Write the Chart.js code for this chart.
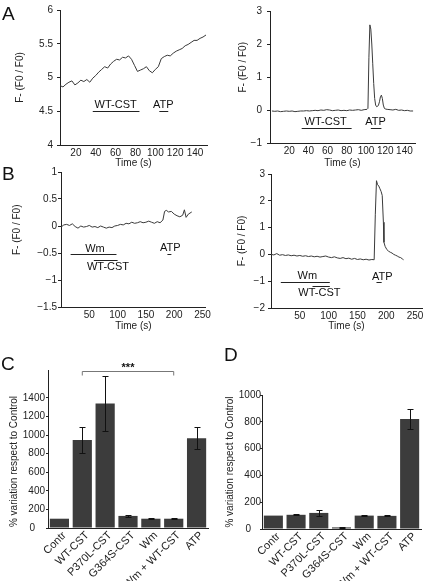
<!DOCTYPE html>
<html>
<head>
<meta charset="utf-8">
<script src="https://cdn.jsdelivr.net/npm/chart.js@4/dist/chart.umd.min.js"></script>
<style>
body { margin: 0; background: #fff; }
#fig { position: relative; width: 426px; height: 581px; overflow: hidden; font-family: "Liberation Sans", Arial, sans-serif; }
#fig canvas { position: absolute; }
.tag { position: absolute; font-size: 19px; line-height: 1; color: #111; }
</style>
</head>
<body>
<div id="fig">
  <canvas id="a1" width="213" height="172" style="left:0;top:0"></canvas>
  <canvas id="a2" width="213" height="172" style="left:213px;top:0"></canvas>
  <canvas id="b1" width="213" height="170" style="left:0;top:165px"></canvas>
  <canvas id="b2" width="213" height="170" style="left:213px;top:165px"></canvas>
  <canvas id="c" width="213" height="231" style="left:0;top:350px"></canvas>
  <canvas id="d" width="213" height="231" style="left:213px;top:350px"></canvas>
  <div class="tag" style="left:2px;top:4px">A</div>
  <div class="tag" style="left:2px;top:164px">B</div>
  <div class="tag" style="left:1px;top:354px">C</div>
  <div class="tag" style="left:224px;top:345px">D</div>
</div>
<script>
// time tick labels
const ticksA = [20,40,60,80,100,120,140];
const ticksB = [50,100,150,200,250];

// A left: WT-CST then ATP
const timeA1 = [4,7,10,13,16,19,22,25,28,31,34,37,40,43,46,49,52,55,58,61,64,67,70,73,76,79,82,85,88,91,94,97,100,103,106,109,112,115,118,121,124,127,130,133,136,139,142,145,148,151];
const valA1 = [4.88,4.86,4.90,4.93,4.95,4.89,4.92,4.96,4.94,4.97,4.93,4.99,5.03,5.08,5.12,5.16,5.14,5.20,5.24,5.27,5.26,5.30,5.29,5.32,5.27,5.18,5.09,5.11,5.13,5.16,5.10,5.07,5.12,5.16,5.28,5.31,5.33,5.32,5.36,5.39,5.41,5.43,5.47,5.49,5.52,5.55,5.55,5.58,5.60,5.63];
const spansA1 = [[37,84,4.5],[104,113,4.5]];
const notesA1 = [['WT-CST',60,4.6],['ATP',108,4.6]];

// A right
const timeA2 = [2,5,8,11,14,17,20,23,26,29,32,35,38,41,44,47,50,53,56,59,62,65,68,71,74,77,80,83,86,89,92,95,98,101,102,103,104,105,106,107,108,109,110,111,112,113,114,115,116,117,118,119,120,122,125,128,131,134,137,140,143,146,149];
const valA2 = [-0.03,-0.04,-0.03,-0.05,-0.04,-0.03,-0.04,-0.03,-0.05,-0.04,-0.03,-0.03,-0.02,-0.03,-0.02,-0.01,-0.02,0.0,-0.01,0.01,0.0,-0.02,-0.01,0.0,-0.02,-0.01,-0.02,0.0,-0.01,0.0,0.01,-0.01,0.01,0.02,0.05,1.6,2.58,2.45,2.0,1.4,0.8,0.35,0.15,0.1,0.11,0.15,0.25,0.4,0.45,0.35,0.15,0.06,0.03,0.02,0.01,0.0,0.02,-0.01,0.0,-0.02,-0.01,-0.03,-0.03];
const spansA2 = [[33,85,-0.54],[105,116,-0.54]];
const notesA2 = [['WT-CST',58,-0.36],['ATP',110,-0.36]];

// B left: wortmannin, then WT-CST, then ATP
const timeB1 = [0,5,10,15,20,25,30,35,40,45,50,55,60,65,70,75,80,85,90,95,100,105,110,115,120,125,130,135,140,145,150,155,160,165,170,175,180,183,186,190,195,200,205,210,215,218,221,225,231];
const valB1 = [-0.02,0.02,0.03,0.01,0.04,-0.01,-0.04,0.0,-0.02,-0.01,0.01,-0.02,-0.01,-0.03,0.0,-0.02,-0.04,-0.02,-0.03,0.0,0.01,0.03,0.02,0.05,0.04,0.07,0.05,0.06,0.08,0.06,0.07,0.09,0.07,0.05,0.08,0.06,0.11,0.27,0.29,0.26,0.27,0.22,0.19,0.17,0.20,0.30,0.16,0.22,0.26];
const spansB1 = [[17,98,-0.52],[58,100,-0.63],[188,195,-0.52]];
const notesB1 = [['Wm',60,-0.43],['WT-CST',83,-0.76],['ATP',193,-0.41]];

// B right
const timeB2 = [0,5,10,15,20,25,30,35,40,45,50,55,60,65,70,75,80,85,90,95,100,105,110,115,120,125,130,135,140,145,150,155,160,165,170,175,179,181,183,185,187,189,191,193,195,196,198,201,204,207,210,213,216,219,222,225,228,230];
const valB2 = [0.0,-0.02,0.03,-0.03,-0.01,-0.04,-0.02,-0.05,-0.03,-0.06,-0.04,-0.07,-0.05,-0.08,-0.06,-0.09,-0.07,-0.1,-0.08,-0.06,-0.1,-0.12,-0.09,-0.13,-0.15,-0.12,-0.16,-0.14,-0.18,-0.15,-0.19,-0.17,-0.2,-0.18,-0.21,-0.19,-0.2,1.5,2.75,2.6,2.55,2.45,2.35,2.2,1.2,0.45,0.3,0.18,0.12,0.08,0.05,0.0,-0.03,-0.06,-0.1,-0.12,-0.17,-0.2];
const spansB2 = [[17,102,-1.04],[72,102,-1.19],[183,192,-1.04]];
const notesB2 = [['Wm',63,-0.81],['WT-CST',84,-1.44],['ATP',193,-0.85]];

// C and D: % variation respect to control
const groups = ['Contr','WT-CST','P370L-CST','G364S-CST','Wm','Wm + WT-CST','ATP'];
const meanC = [100,946,1340,130,100,100,965];
const errC = [0,143,296,8,4,4,120];
const meanD = [100,106,120,12,100,98,820];
const errD = [0,4,22,3,3,3,75];
const sigC = [1,5,1690,'***'];

Chart.defaults.font.family = '"Liberation Sans", Arial, sans-serif';
Chart.defaults.font.size = 10;
Chart.defaults.color = '#222';

function tickText(v) { return v < 0 ? '\u2212' + Math.abs(v) : String(v); }

const marks = {
  id: 'marks',
  afterDraw(chart, args, o) {
    const {ctx, scales: {x, y}} = chart;
    ctx.save();
    ctx.strokeStyle = '#222';
    ctx.lineWidth = 1;
    o.spans.forEach(s => {
      const yy = Math.round(y.getPixelForValue(s[2])) + 0.5;
      ctx.beginPath();
      ctx.moveTo(x.getPixelForValue(s[0]), yy);
      ctx.lineTo(x.getPixelForValue(s[1]), yy);
      ctx.stroke();
    });
    ctx.fillStyle = '#111';
    ctx.font = '11px "Liberation Sans", Arial, sans-serif';
    ctx.textAlign = 'center';
    ctx.textBaseline = 'middle';
    o.notes.forEach(n => ctx.fillText(n[0], x.getPixelForValue(n[1]), y.getPixelForValue(n[2])));
    ctx.restore();
  }
};

function traceChart(id, t, v, o) {
  return new Chart(document.getElementById(id), {
    type: 'line',
    data: { datasets: [{ data: t.map((x, i) => ({x: x, y: v[i]})), borderColor: '#3a3a3a', borderWidth: 1, pointRadius: 0, tension: 0 }] },
    options: {
      responsive: false, animation: false, devicePixelRatio: 1,
      layout: { padding: { top: o.pad[0], right: o.pad[1], left: 0, bottom: 0 } },
      plugins: { legend: { display: false }, tooltip: { enabled: false }, marks: { spans: o.spans, notes: o.notes } },
      scales: {
        x: {
          type: 'linear', min: o.x[0], max: o.x[1],
          border: { color: '#222' }, grid: { display: false, drawTicks: false },
          ticks: { autoSkip: false, maxRotation: 0, padding: 2 },
          afterBuildTicks: s => { s.ticks = o.ticks.map(k => ({value: k})); },
          afterFit: s => { s.height = o.xh; },
          title: { display: true, text: 'Time (s)', padding: { top: 0, bottom: 3 } }
        },
        y: {
          min: o.y[0], max: o.y[1],
          border: { color: '#222' }, grid: { drawOnChartArea: false, tickLength: 3, color: '#222' },
          ticks: { stepSize: o.y[2], padding: o.tp, callback: tickText },
          afterFit: s => { s.width = o.yw; },
          title: { display: true, text: o.title, padding: { top: o.ttp, bottom: 0 } }
        }
      }
    },
    plugins: [marks]
  });
}

traceChart('a1', timeA1, valA1, { pad: [9, 6], x: [4, 152], ticks: ticksA, y: [4, 6, 0.5], xh: 27, yw: 60, tp: 4, ttp: 14,
  title: 'F- (F0 / F0)', spans: spansA1, notes: notesA1 });
traceChart('a2', timeA2, valA2, { pad: [8, 11], x: [0, 151], ticks: ticksA, y: [-1, 3, 1], xh: 29, yw: 57, tp: 5, ttp: 24,
  title: '\u00a0\u00a0\u00a0\u00a0\u00a0\u00a0\u00a0F- (F0 / F0)', spans: spansA2, notes: notesA2 });
traceChart('b1', timeB1, valB1, { pad: [7, 6], x: [0, 256], ticks: ticksB, y: [-1.5, 1, 0.5], xh: 28, yw: 61, tp: 1, ttp: 11,
  title: '\u00a0\u00a0\u00a0\u00a0\u00a0\u00a0\u00a0F- (F0 / F0)', spans: spansB1, notes: notesB1 });
traceChart('b2', timeB2, valB2, { pad: [8, 4], x: [0, 262], ticks: ticksB, y: [-2, 3, 1], xh: 27, yw: 58, tp: 3, ttp: 23,
  title: 'F- (F0 / F0)', spans: spansB2, notes: notesB2 });

const whiskers = {
  id: 'whiskers',
  afterDraw(chart, args, o) {
    const {ctx, scales: {x, y}} = chart;
    ctx.save();
    ctx.strokeStyle = '#111';
    ctx.lineWidth = 1;
    o.mean.forEach((m, i) => {
      if (!o.err[i]) return;
      const cx = Math.round(x.getPixelForValue(i)) + 0.5;
      const y1 = Math.round(y.getPixelForValue(m + o.err[i])) + 0.5;
      const y2 = Math.round(y.getPixelForValue(m - o.err[i])) + 0.5;
      ctx.beginPath();
      ctx.moveTo(cx, y1); ctx.lineTo(cx, y2);
      ctx.moveTo(cx - 3, y1); ctx.lineTo(cx + 3, y1);
      ctx.moveTo(cx - 3, y2); ctx.lineTo(cx + 3, y2);
      ctx.stroke();
    });
    if (o.sig) {
      const xa = x.getPixelForValue(o.sig[0]), xb = x.getPixelForValue(o.sig[1]);
      const yy = Math.round(y.getPixelForValue(o.sig[2])) + 0.5;
      ctx.strokeStyle = '#777';
      ctx.beginPath();
      ctx.moveTo(xa, yy + 4); ctx.lineTo(xa, yy); ctx.lineTo(xb, yy); ctx.lineTo(xb, yy + 4);
      ctx.stroke();
      ctx.fillStyle = '#111';
      ctx.font = 'bold 11px "Liberation Sans", Arial, sans-serif';
      ctx.textAlign = 'center';
      ctx.textBaseline = 'alphabetic';
      ctx.fillText(o.sig[3], (xa + xb) / 2, yy - 1);
    }
    ctx.restore();
  }
};

function barChart(id, mean, err, o) {
  return new Chart(document.getElementById(id), {
    type: 'bar',
    data: { labels: groups, datasets: [{ data: mean, backgroundColor: '#3c3c3c', barPercentage: 0.84, categoryPercentage: 1 }] },
    options: {
      responsive: false, animation: false, devicePixelRatio: 1,
      layout: { padding: { top: o.pad[0], right: o.pad[1], left: 0, bottom: 0 } },
      plugins: { legend: { display: false }, tooltip: { enabled: false }, whiskers: { mean: mean, err: err, sig: o.sig } },
      scales: {
        x: {
          border: { color: '#222' }, grid: { display: false, drawTicks: false },
          ticks: { autoSkip: false, minRotation: 45, maxRotation: 45, padding: 1, labelOffset: 5, font: { size: 11 } },
          afterFit: s => { s.height = o.xh; }
        },
        y: {
          min: 0, max: o.max,
          border: { color: '#222' }, grid: { drawOnChartArea: false, tickLength: 2, color: '#222' },
          ticks: { stepSize: 200, padding: o.tp, callback: v => v === 0 ? '0\u2002\u2002' : String(v) },
          afterBuildTicks: s => { s.ticks = s.ticks.filter(k => k.value % 200 === 0); },
          afterFit: s => { s.width = o.yw; },
          title: { display: true, text: o.title, padding: { top: o.ttp, bottom: 0 } }
        }
      }
    },
    plugins: [whiskers]
  });
}

barChart('c', meanC, errC, { pad: [20, 5], max: 1700, xh: 53, yw: 48, tp: 1, ttp: 8, sig: sigC,
  title: '% variation respect to Control\u00a0\u00a0\u00a0\u00a0\u00a0\u00a0\u00a0\u00a0\u00a0' });
barChart('d', meanD, errD, { pad: [45, 5], max: 1000, xh: 52, yw: 49, tp: -1, ttp: 11, sig: null,
  title: '% variation respect to Control' });
</script>
</body>
</html>
